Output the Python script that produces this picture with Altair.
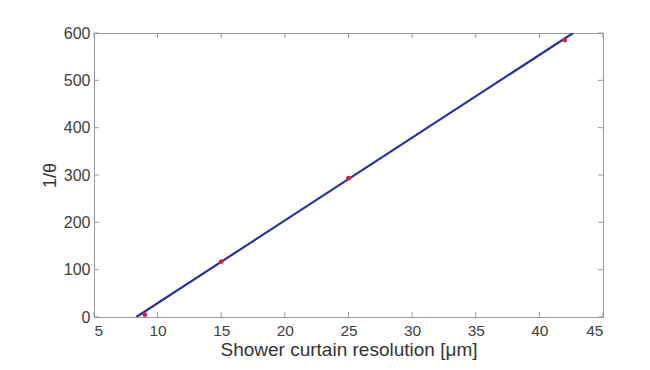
import altair as alt
import pandas as pd

# measured points
res_x = [9, 15, 25, 42]
inv_theta = [5, 117, 293, 585]

# fitted line (endpoints)
fit_x = [8.33, 42.65]
fit_y = [0, 600]

x_ticks = [5, 10, 15, 20, 25, 30, 35, 40, 45]
y_ticks = [0, 100, 200, 300, 400, 500, 600]

W, H = 509, 284
FONT = "Liberation Sans"

pts = pd.DataFrame({"x": res_x, "y": inv_theta})
fit = pd.DataFrame({"x": fit_x, "y": fit_y})
xt = pd.DataFrame({"t": x_ticks})
yt = pd.DataFrame({"t": y_ticks})

xs = alt.Scale(domain=[5, 45], nice=False, zero=False)
ys = alt.Scale(domain=[0, 600], nice=False)

xaxis = alt.Axis(values=x_ticks, title="Shower curtain resolution [μm]", grid=False,
                 ticks=False, domain=False, labelPadding=6, labelFontSize=15.5,
                 titleFontSize=19, titleFontWeight="normal", titlePadding=2,
                 labelColor="#404040", titleColor="#333", labelFont=FONT, titleFont=FONT)
yaxis = alt.Axis(values=y_ticks, title="1/θ", grid=False, ticks=False, domain=False,
                 labelPadding=4, labelFontSize=16, titleFontSize=18,
                 titleFontWeight="normal", titlePadding=4, labelColor="#404040",
                 titleColor="#333", labelFont=FONT, titleFont=FONT)

line = alt.Chart(fit).mark_line(color="#2a2f9e", strokeWidth=2.2, clip=True).encode(
    x=alt.X("x:Q", scale=xs, axis=xaxis),
    y=alt.Y("y:Q", scale=ys, axis=yaxis),
)
dots = alt.Chart(pts).mark_circle(color="#d0204a", size=24, opacity=1).encode(
    x=alt.X("x:Q", scale=xs), y=alt.Y("y:Q", scale=ys)
)

tick_col = "#999"
xb = alt.Chart(xt).mark_rule(color=tick_col, strokeWidth=1).encode(
    x=alt.X("t:Q", scale=xs), y=alt.value(H), y2=alt.value(H - 5))
xtop = alt.Chart(xt).mark_rule(color=tick_col, strokeWidth=1).encode(
    x=alt.X("t:Q", scale=xs), y=alt.value(0), y2=alt.value(5))
yl = alt.Chart(yt).mark_rule(color=tick_col, strokeWidth=1).encode(
    y=alt.Y("t:Q", scale=ys), x=alt.value(0), x2=alt.value(5))
yr = alt.Chart(yt).mark_rule(color=tick_col, strokeWidth=1).encode(
    y=alt.Y("t:Q", scale=ys), x=alt.value(W), x2=alt.value(W - 5))

chart = alt.layer(xb, xtop, yl, yr, line, dots).properties(
    width=W, height=H,
    autosize=alt.AutoSizeParams(type="none"),
    padding={"left": 94, "top": 33, "right": 47, "bottom": 53},
    background="white",
).configure_view(stroke="#999", strokeWidth=1)

chart.save("out.html", embed_options={"renderer": "svg", "actions": False})
